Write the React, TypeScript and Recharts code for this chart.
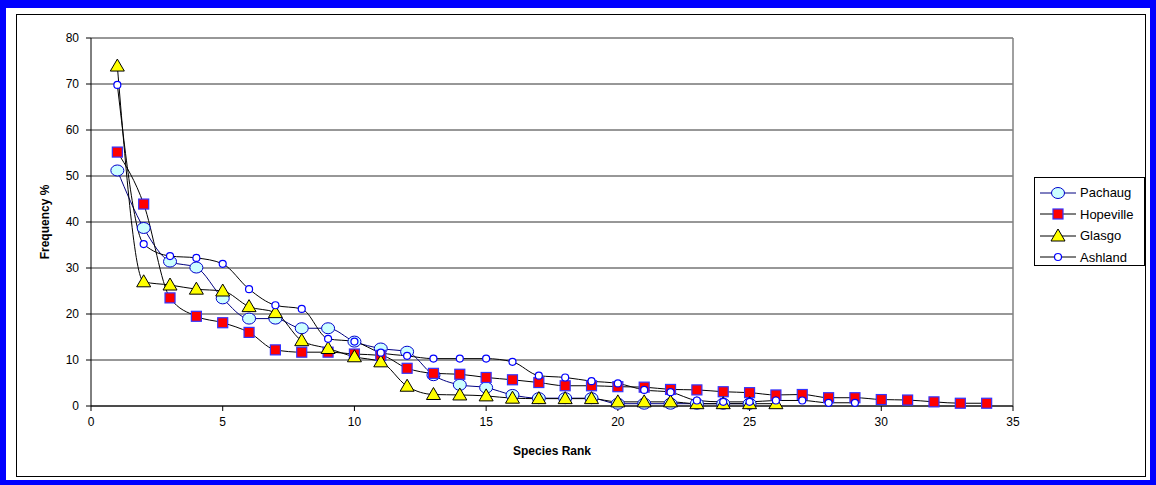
import { CartesianGrid, Label, Line, LineChart, ReferenceLine, XAxis, YAxis } from "recharts"

const ranks = [1, 2, 3, 4, 5, 6, 7, 8, 9, 10, 11, 12, 13, 14, 15, 16, 17, 18, 19, 20, 21, 22, 23, 24, 25, 26, 27, 28, 29, 30, 31, 32, 33, 34]

const pachaug = [51.2, 38.7, 31.4, 30.1, 23.4, 19.0, 19.0, 16.9, 16.9, 14.0, 12.5, 11.8, 6.7, 4.6, 4.0, 2.4, 1.7, 1.7, 1.7, 0.5, 0.5, 0.5, 0.5, 0.5, 0.5]
const hopeville = [55.2, 43.9, 23.5, 19.5, 18.1, 16.0, 12.2, 11.7, 11.7, 11.3, 11.0, 8.2, 7.1, 6.9, 6.2, 5.7, 5.1, 4.4, 4.4, 4.2, 4.1, 3.6, 3.5, 3.1, 2.9, 2.4, 2.5, 1.8, 1.8, 1.4, 1.3, 0.9, 0.6, 0.6]
const glasgo = [73.9, 27.0, 26.3, 25.4, 25.0, 21.6, 20.3, 14.2, 12.5, 10.7, 9.6, 4.3, 2.5, 2.4, 2.2, 1.7, 1.6, 1.6, 1.6, 0.9, 0.9, 0.9, 0.5, 0.5, 0.5, 0.5]
const ashland = [69.8, 35.2, 32.6, 32.2, 30.9, 25.4, 21.9, 21.1, 14.6, 14.0, 11.6, 10.9, 10.3, 10.3, 10.3, 9.6, 6.6, 6.2, 5.4, 4.9, 3.5, 3.0, 1.2, 0.9, 0.9, 1.2, 1.2, 0.7, 0.7]

const xTicks = [0, 5, 10, 15, 20, 25, 30, 35]
const yTicks = [0, 10, 20, 30, 40, 50, 60, 70, 80]

const data = ranks.map((rank, i) => ({
  rank,
  pachaug: pachaug[i],
  hopeville: hopeville[i],
  glasgo: glasgo[i],
  ashland: ashland[i],
}))

const font = "Arial, 'Liberation Sans', sans-serif"

// marker shapes, Excel style
function PachaugMark({ cx, cy }: { cx: number; cy: number }) {
  return <ellipse cx={cx} cy={cy} rx={6.5} ry={5.5} fill="#CCFFFF" stroke="#0000CC" strokeWidth={1} />
}
function HopevilleMark({ cx, cy }: { cx: number; cy: number }) {
  return <rect x={cx - 5} y={cy - 5} width={10} height={10} fill="#FF0000" stroke="#3333FF" strokeWidth={1.2} />
}
function GlasgoMark({ cx, cy }: { cx: number; cy: number }) {
  return (
    <polygon
      points={`${cx},${cy - 7} ${cx - 7},${cy + 5} ${cx + 7},${cy + 5}`}
      fill="#FFFF00"
      stroke="#000"
      strokeWidth={1}
    />
  )
}
function AshlandMark({ cx, cy }: { cx: number; cy: number }) {
  return <circle cx={cx} cy={cy} r={3.5} fill="#fff" stroke="#0000FF" strokeWidth={1.2} />
}

function dotOf(Mark: (p: { cx: number; cy: number }) => JSX.Element, name: string) {
  return (props: any) => {
    const { cx, cy, index } = props
    if (cx == null || cy == null || props.value == null) return <g key={`${name}-${index}`} />
    return (
      <g key={`${name}-${index}`}>
        <Mark cx={cx} cy={cy} />
      </g>
    )
  }
}

const legendItems = [
  { name: "Pachaug", line: "#000080", Mark: PachaugMark },
  { name: "Hopeville", line: "#000", Mark: HopevilleMark },
  { name: "Glasgo", line: "#000", Mark: GlasgoMark },
  { name: "Ashland", line: "#000", Mark: AshlandMark },
]

export default function App() {
  return (
    <div style={{ position: "absolute", left: 0, top: 0, width: 1156, height: 485, background: "#fff", fontFamily: font }}>
      {/* blue frame */}
      <div style={{ position: "absolute", left: 0, top: 0, width: 1156, height: 485, boxSizing: "border-box", borderStyle: "solid", borderColor: "#0000FF", borderWidth: "8px 6px 5px 6px" }} />
      <div style={{ position: "absolute", left: 16, top: 14, width: 1130, height: 463, boxSizing: "border-box", border: "1px solid #000" }} />

      <div style={{ position: "absolute", left: 0, top: 0 }}>
        <LineChart width={1156} height={485} data={data} margin={{ top: 38, right: 143, bottom: 28, left: 31 }}>
          <CartesianGrid horizontal vertical={false} stroke="#303030" />
          <XAxis
            dataKey="rank"
            type="number"
            domain={[0, 35]}
            ticks={xTicks}
            height={51}
            tickSize={5}
            tickMargin={6}
            stroke="#000"
            tick={{ fill: "#000", fontSize: 12, fontFamily: font }}
          >
            <Label value="Species Rank" position="insideBottom" offset={2} style={{ fontWeight: "bold", fontSize: 12, fill: "#000", fontFamily: font }} />
          </XAxis>
          <YAxis
            type="number"
            domain={[0, 80]}
            ticks={yTicks}
            width={60}
            tickSize={5}
            tickMargin={7}
            stroke="#000"
            tick={{ fill: "#000", fontSize: 12, fontFamily: font }}
          >
            <Label value="Frequency %" angle={-90} position="insideLeft" offset={14} style={{ textAnchor: "middle", fontWeight: "bold", fontSize: 12, fill: "#000", fontFamily: font }} />
          </YAxis>
          <ReferenceLine x={35} stroke="#808080" strokeWidth={1.5} />
          <Line type="monotone" dataKey="pachaug" stroke="#000080" strokeWidth={1} isAnimationActive={false} dot={dotOf(PachaugMark, "pa")} activeDot={false} />
          <Line type="monotone" dataKey="hopeville" stroke="#000" strokeWidth={1} isAnimationActive={false} dot={dotOf(HopevilleMark, "ho")} activeDot={false} />
          <Line type="monotone" dataKey="glasgo" stroke="#000" strokeWidth={1} isAnimationActive={false} dot={dotOf(GlasgoMark, "gl")} activeDot={false} />
          <Line type="monotone" dataKey="ashland" stroke="#000" strokeWidth={1} isAnimationActive={false} dot={dotOf(AshlandMark, "as")} activeDot={false} />
        </LineChart>
      </div>

      {/* legend */}
      <div style={{ position: "absolute", left: 1034, top: 177, width: 111, height: 89, boxSizing: "border-box", border: "1px solid #000", background: "#fff", padding: "4px 0 0 5px" }}>
        {legendItems.map(({ name, line, Mark }) => (
          <div key={name} style={{ display: "flex", alignItems: "center", height: 21.5 }}>
            <svg width={36} height={16} style={{ display: "block" }}>
              <line x1={0} y1={8} x2={36} y2={8} stroke={line} strokeWidth={1} />
              <Mark cx={18} cy={8} />
            </svg>
            <span style={{ marginLeft: 4, fontSize: 13, color: "#000" }}>{name}</span>
          </div>
        ))}
      </div>
    </div>
  )
}
